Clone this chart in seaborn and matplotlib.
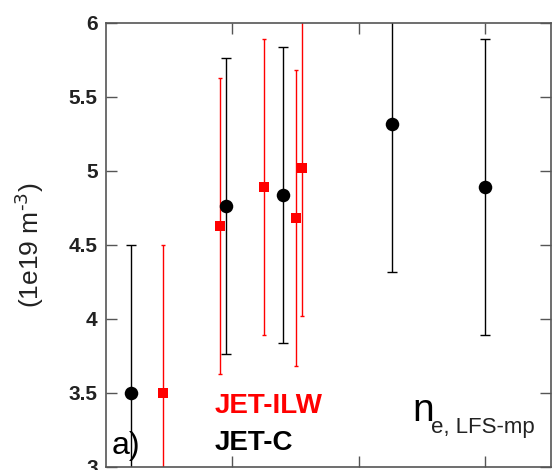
import numpy as np
import pandas as pd
import matplotlib
matplotlib.use("Agg")
import matplotlib.pyplot as plt
import seaborn as sns

# JET-C (black circles)
jetc_x = [0.20, 0.95, 1.40, 2.26, 3.00]
jetc_y = [3.50, 4.76, 4.84, 5.32, 4.89]
jetc_err = [1.0, 1.0, 1.0, 1.0, 1.0]

# JET-ILW (red squares)
ilw_x = [0.45, 0.90, 1.25, 1.50, 1.55]
ilw_y = [3.50, 4.63, 4.89, 4.68, 5.02]
ilw_err = [1.0, 1.0, 1.0, 1.0, 1.0]

y_ticks = [3, 3.5, 4, 4.5, 5, 5.5, 6]
y_tick_labels = ["3", "3.5", "4", "4.5", "5", "5.5", "6"]

sns.set_style("ticks")
plt.rcParams["font.family"] = ["Liberation Sans", "DejaVu Sans"]

df_c = pd.DataFrame({"x": jetc_x, "y": jetc_y})
df_ilw = pd.DataFrame({"x": ilw_x, "y": ilw_y})

fig = plt.figure(figsize=(5.52, 4.70), dpi=100)
ax = fig.add_axes([0.192, 0.0064, 0.806, 0.945])

# error bars
ax.errorbar(jetc_x, jetc_y, yerr=jetc_err, fmt="none", ecolor="black",
            elinewidth=1.0, capsize=3.5, capthick=1.0, zorder=2)
ax.errorbar(ilw_x, ilw_y, yerr=ilw_err, fmt="none", ecolor="red",
            elinewidth=1.0, capsize=1.5, capthick=1.0, zorder=2)

# markers
sns.scatterplot(data=df_c, x="x", y="y", ax=ax, color="black", marker="o",
                s=95, edgecolor="black", linewidth=0, zorder=3)
sns.scatterplot(data=df_ilw, x="x", y="y", ax=ax, color="red", marker="s",
                s=60, edgecolor="red", linewidth=0, zorder=3)

ax.set_xlim(0, 3.52)
ax.set_ylim(3, 6)
ax.set_yticks(y_ticks)
ax.set_yticklabels(y_tick_labels, fontsize=15, fontweight="bold", color="#222222")
ax.set_xticks([1, 2, 3])
ax.set_xticklabels([])
ax.set_xlabel("")
ax.set_ylabel("")

ax.tick_params(direction="in", length=8, width=1, color="#555555",
               top=True, right=True, pad=6)
for sp in ax.spines.values():
    sp.set_visible(True)
    sp.set_color("#555555")
    sp.set_linewidth(1.2)

# y label as figure text (hyphen, not minus, in the exponent)
fig.text(29 / 552, 1 - 245 / 470, r"(1e19 m$^{\text{-3}}$)", rotation=90,
         fontsize=19, ha="center", va="center", color="#222222")

ax.text(0.245, 0.1216, "JET-ILW", transform=ax.transAxes, color="red",
        fontsize=20, fontweight="bold", ha="left", va="baseline")
ax.text(0.245, 0.038, "JET-C", transform=ax.transAxes, color="black",
        fontsize=20, fontweight="bold", ha="left", va="baseline")
ax.text(0.012, 0.03, "a)", transform=ax.transAxes, color="black",
        fontsize=23, ha="left", va="baseline")
ax.text(0.688, 0.104, "n", transform=ax.transAxes, color="black",
        fontsize=28, ha="left", va="baseline")
ax.text(0.730, 0.077, "e, LFS-mp", transform=ax.transAxes, color="#222222",
        fontsize=16, ha="left", va="baseline")

fig.savefig("out.png", dpi=100)
